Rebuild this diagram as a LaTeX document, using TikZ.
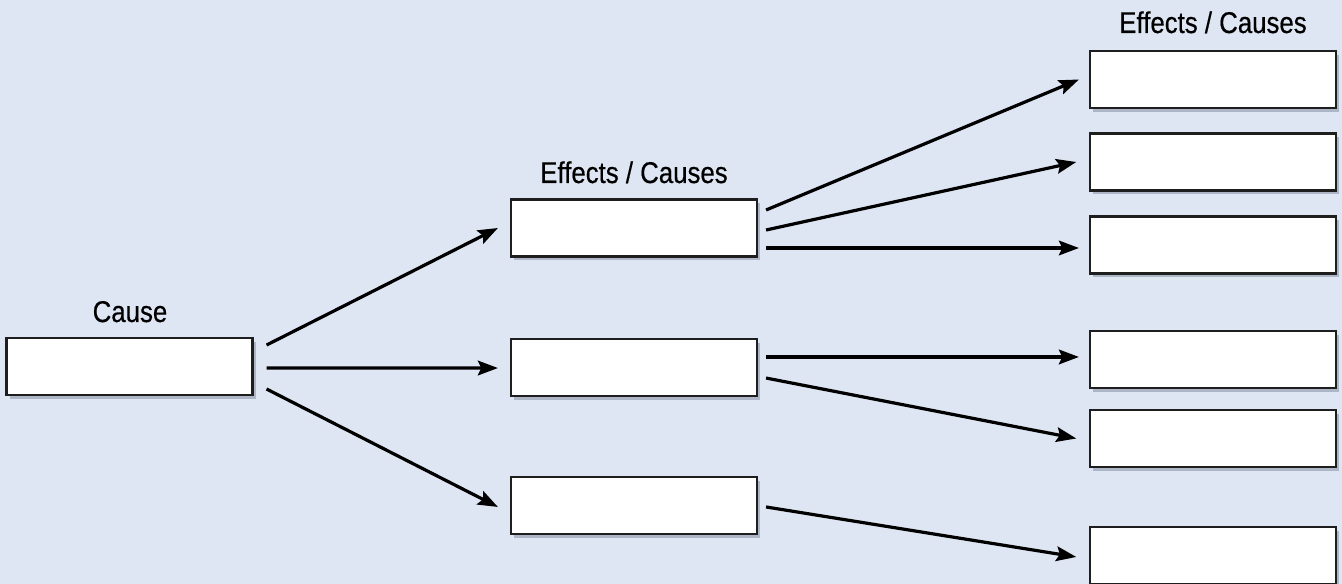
\documentclass[tikz,border=0pt]{standalone}
\usepackage{fontspec}
\setmainfont{Liberation Sans}[FakeStretch=0.86,FakeBold=0.5]
\usetikzlibrary{arrows.meta,shadows}
\definecolor{bgblue}{RGB}{223,230,243}
\definecolor{boxline}{RGB}{30,30,30}
\definecolor{shadowcol}{RGB}{100,110,135}
\begin{document}
\begin{tikzpicture}[x=0.75pt,y=-0.75pt,
  box/.style={draw=boxline, line width=1.6pt, fill=white, rectangle,
    minimum width=184.5pt, minimum height=42.75pt, inner sep=0pt,
    drop shadow={shadow xshift=2.5pt, shadow yshift=-3pt, opacity=0.4, fill=shadowcol}},
  lbl/.style={anchor=base, inner sep=0pt, font=\fontsize{22.5pt}{26pt}\selectfont},
  arr/.style={line width=2.4pt, -{Stealth[length=15pt,width=11pt,inset=2.5pt]}}]
\fill[bgblue] (0,0) rectangle (1342,584);
\useasboundingbox (0,0) rectangle (1342,584);
% boxes
\node[box] (c)  at (129.5,366.5) {};
\node[box] (m1) at (634,228) {};
\node[box] (m2) at (634,367.5) {};
\node[box] (m3) at (634,505.5) {};
\node[box] (r1) at (1213,79.5) {};
\node[box] (r2) at (1213,162) {};
\node[box] (r3) at (1213,245) {};
\node[box] (r4) at (1213,359.5) {};
\node[box] (r5) at (1213,438.5) {};
\node[box] (r6) at (1213,555.5) {};
% labels
\node[lbl] (lc) at (130,322) {Cause};
\node[lbl] (lm) at (634,183) {Effects / Causes};
\node[lbl] (lr) at (1213,33) {Effects / Causes};
% arrows from cause
\draw[arr] ([xshift=9.75pt,yshift=16.1pt]c.east) -- ([xshift=-9pt]m1.west);
\draw[arr] ([xshift=9.75pt,yshift=-1.1pt]c.east) -- ([xshift=-9pt,yshift=-0.4pt]m2.west);
\draw[arr] ([xshift=9.75pt,yshift=-16.9pt]c.east) -- ([xshift=-9pt,yshift=-1.1pt]m3.west);
% arrows from middle
\draw[arr] ([xshift=6pt,yshift=13.5pt]m1.east) -- ([xshift=-7.5pt]r1.west);
\draw[arr] ([xshift=6pt,yshift=-1.5pt]m1.east) -- ([xshift=-9.5pt]r2.west);
\draw[arr] ([xshift=6pt,yshift=-15pt]m1.east) -- ([xshift=-7.5pt,yshift=-2.25pt]r3.west);
\draw[arr] ([xshift=6pt,yshift=7.9pt]m2.east) -- ([xshift=-7.5pt,yshift=1.9pt]r4.west);
\draw[arr] ([xshift=6pt,yshift=-7.9pt]m2.east) -- ([xshift=-9.5pt]r5.west);
\draw[arr] ([xshift=6pt,yshift=-1.1pt]m3.east) -- ([xshift=-9.5pt,yshift=-1.1pt]r6.west);
\end{tikzpicture}
\end{document}
